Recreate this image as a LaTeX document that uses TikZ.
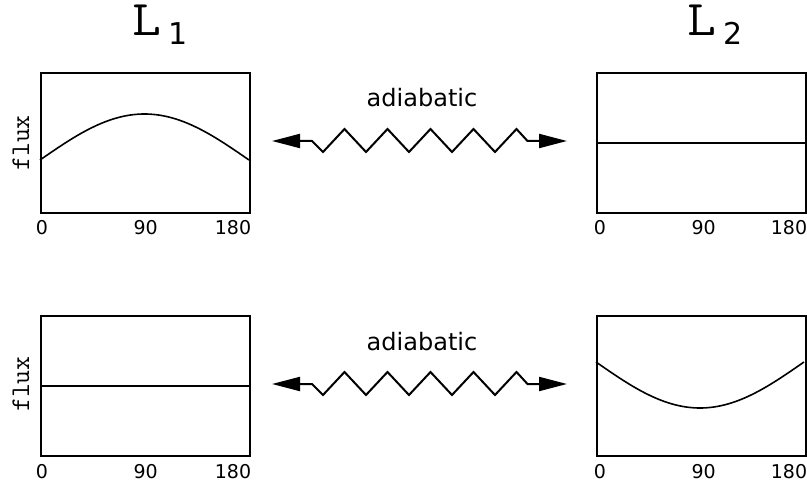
\documentclass[tikz,border=0pt]{standalone}
\usepackage{fontspec}
\setmainfont{DejaVu Sans}
\usetikzlibrary{arrows.meta}
\begin{document}
\begin{tikzpicture}[x=1pt,y=-1pt,
  panel/.style={draw, line width=2.3pt, minimum width=209pt, minimum height=140pt, inner sep=0pt, anchor=north west},
  tick/.style={font=\fontsize{19}{19}\selectfont, inner sep=0pt, anchor=base},
  title/.style={font=\ttfamily\fontsize{50}{50}\selectfont\addfontfeature{FakeBold=4}, inner sep=0pt, anchor=base west},
  ylab/.style={font=\ttfamily\fontsize{27}{27}\selectfont\addfontfeature{FakeBold=1.5}, rotate=90, inner sep=0pt},
  lbl/.style={font=\fontsize{24}{24}\selectfont, inner sep=0pt, anchor=base},
  curve/.style={line width=1.6pt},
  zz/.style={line width=2pt, line join=miter, {Triangle[length=28pt,width=14pt]}-{Triangle[length=28pt,width=14pt]}}
]
\useasboundingbox (0,0) rectangle (807,484);
% panels
\node[panel] (p1) at (40,72) {};
\node[panel] (p2) at (596,72) {};
\node[panel] (p3) at (40,315) {};
\node[panel] (p4) at (596,315) {};
% titles
\node[title] (t1) at (132,36) {\scalebox{1.12}[1]{L}\hspace{7pt}\raisebox{-9pt}{\rmfamily\fontsize{30}{30}\selectfont 1}};
\node[title] (t2) at (687,36) {\scalebox{1.12}[1]{L}\hspace{7pt}\raisebox{-9pt}{\rmfamily\fontsize{30}{30}\selectfont 2}};
% y labels
\node[ylab] (y1) at (21,143) {flux};
\node[ylab] (y3) at (21,384) {flux};
% ticks
\foreach \p/\y in {p1/235, p3/478} {
  \node[tick] at ([xshift=2pt]\p.south west |- 0,\y) {0};
  \node[tick] at (\p.south |- 0,\y) {90};
  \node[tick, anchor=base east] at (\p.south east |- 0,\y) {180};
}
\foreach \p/\y in {p2/235, p4/478} {
  \node[tick] at ([xshift=4pt]\p.south west |- 0,\y) {0};
  \node[tick] at ([xshift=2pt]\p.south |- 0,\y) {90};
  \node[tick, anchor=base east] at (\p.south east |- 0,\y) {180};
}
% curves
\draw[curve] plot[domain=0:180, samples=73] ({40+\x/180*209}, {160-46*sin(\x)});
\draw[curve] (p2.west) -- (p2.east);
\draw[curve] (p3.west) -- (p3.east);
\draw[curve] plot[domain=0:180, samples=73] ({596+\x/180*208}, {362+46*sin(\x)});
% adiabatic labels
\node[lbl] (a1) at (422,107) {adiabatic};
\node[lbl] (a2) at (422,350) {adiabatic};
% zigzag connectors
\foreach \yy/\n in {141/u, 384/d} {
  \coordinate (L\n) at (272,\yy);
  \coordinate (R\n) at (567,\yy);
  \draw[zz] (L\n) -- ++(40,0) -- ++(11,11)
    -- ++(21.5,-23) -- ++(21.5,23) -- ++(21.5,-23) -- ++(21.5,23)
    -- ++(21.5,-23) -- ++(21.5,23) -- ++(21.5,-23) -- ++(21.5,23)
    -- ++(21.5,-23) -- ++(11,12) -- (R\n);
}
\end{tikzpicture}
\end{document}
